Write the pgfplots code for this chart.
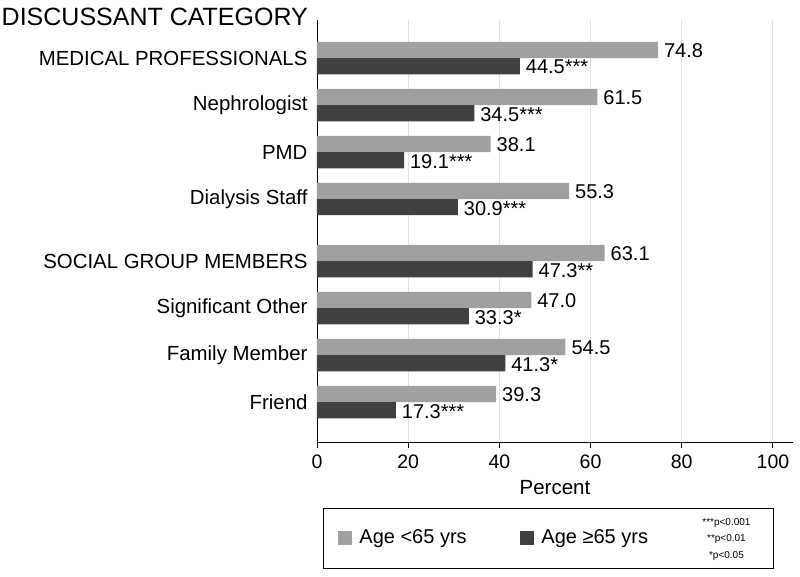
\documentclass[border=0pt]{standalone}
\usepackage{pgfplots}
\usepackage{pgfplotstable}
\usepackage{fontspec}
\setmainfont{Liberation Sans}
\pgfplotsset{compat=1.18}
\definecolor{lightbar}{RGB}{160,160,160}
\definecolor{darkbar}{RGB}{64,64,64}
\definecolor{gridc}{RGB}{225,225,225}
\pgfplotstableread{
y young old oldlab
7.32 74.8 44.5 44.5***
6.32 61.5 34.5 34.5***
5.32 38.1 19.1 19.1***
4.32 55.3 30.9 30.9***
3 63.1 47.3 47.3**
2 47.0 33.3 33.3*
1 54.5 41.3 41.3*
0 39.3 17.3 17.3***
}\datatable
\begin{document}
\begin{tikzpicture}
\begin{axis}[
  at={(0pt,0pt)}, anchor=south west,
  scale only axis, width=476pt, height=422pt,
  xbar, bar width=0.345,
  legend image code/.code={\path (0pt,0pt) -- (19pt,0pt); \fill[#1] (0pt,-7pt) rectangle (14pt,7pt);},
  xmin=0, xmax=104.4, ymin=-0.85, ymax=8.13,
  axis lines*=left,
  axis line style={line width=0.9pt, black},
  xtick={0,20,...,100},
  ytick={0,1,2,3,4.32,5.32,6.32,7.32},
  yticklabels={Friend, Family Member, Significant Other, SOCIAL GROUP MEMBERS, Dialysis Staff, PMD, Nephrologist, MEDICAL PROFESSIONALS},
  /pgf/number format/assume math mode=true,
  x tick label style={font=\fontsize{19.5}{23}\selectfont, yshift=-3pt},
  y tick label style={font=\fontsize{20.4}{24}\selectfont},
  x tick style={line width=0.9pt, black},
  ytick style={draw=none},
  major tick length=6pt, tick align=outside,
  xmajorgrids, major grid style={gridc, line width=0.9pt},
  xlabel={Percent},
  xlabel style={font=\fontsize{20.5}{24}\selectfont, yshift=-5pt},
  legend columns=3,
  legend style={at={(axis description cs:0,0)}, anchor=north west, xshift=6pt, yshift=-66pt,
    inner xsep=15pt, inner ysep=3.25pt, draw=black, line width=0.9pt,
    nodes={text depth=},
    font=\fontsize{20}{24}\selectfont},
  every node near coord/.append style={font=\fontsize{20}{24}\selectfont, anchor=west, text=black, xshift=2.5pt, yshift=-1pt},
]
\addplot[fill=lightbar, draw=none, bar shift=0.1725, point meta=explicit symbolic, nodes near coords]
  table[x=young, y=y, meta=young] {\datatable};
\addlegendentry{\makebox[159pt][l]{Age <65 yrs}}
\addplot[fill=darkbar, draw=none, bar shift=-0.1725, point meta=explicit symbolic, nodes near coords]
  table[x=old, y=y, meta=oldlab] {\datatable};
\addlegendentry{\makebox[151pt][l]{Age ≥65 yrs}}
\addlegendimage{empty legend}
\addlegendentry{\makebox[60pt][c]{\fontsize{10}{16.5}\selectfont\begin{tabular}{@{}c@{}}***p<0.001\\{}**p<0.01\\{}*p<0.05\end{tabular}}}
\end{axis}
\node[anchor=base east, font=\fontsize{25}{30}\selectfont, inner sep=0pt] at (-9pt,416pt) {DISCUSSANT CATEGORY};
\pgfresetboundingbox
\useasboundingbox (-317pt,-135pt) rectangle (483pt,442pt);
\end{tikzpicture}
\end{document}
